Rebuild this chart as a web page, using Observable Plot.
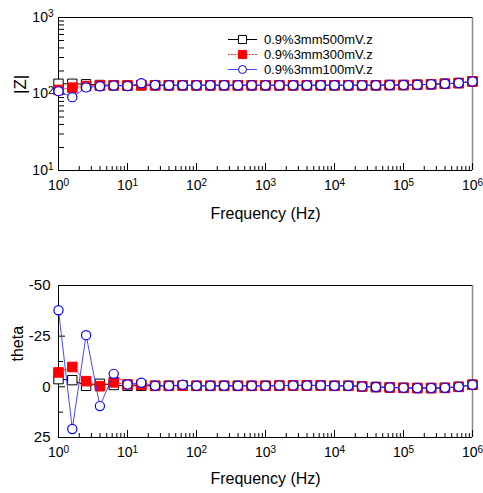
<!DOCTYPE html>
<html><head><meta charset="utf-8">
<script src="https://cdn.jsdelivr.net/npm/d3@7"></script>
<script src="https://cdn.jsdelivr.net/npm/@observablehq/plot@0.6"></script>
<style>
body{margin:0;background:#fff;font-family:"Liberation Sans",Arial,sans-serif;}
#wrap{position:relative;width:483px;height:493px;background:#fff}
#wrap svg{display:block}
.legend{position:absolute;left:226px;top:31.5px;font-size:13px;color:#000}
.row{display:flex;align-items:center;height:15px}
.row span{margin-left:4px}
</style></head><body><div id="wrap"></div>
<script>
// ---- data ----
const freq = [1, 1.585, 2.512, 3.981, 6.31, 10, 15.85, 25.12, 39.81, 63.1,
  100, 158.5, 251.2, 398.1, 631, 1000, 1585, 2512, 3981, 6310,
  10000, 15850, 25120, 39810, 63100, 100000, 158500, 251200, 398100, 631000, 1000000];
const seriesNames = ["0.9%3mm500mV.z", "0.9%3mm300mV.z", "0.9%3mm100mV.z"];
const zBlack = [136,136,134,131,130,129,130,130,130,130,130,130,130,130,130,130,130,130,130,130,130,130,130,130,131,131,132,134,136,139,146];
const zRed   = [113,121,127,129,130,129,130,130,130,130,130,130,130,130,130,130,130,130,130,130,130,130,130,130,131,131,132,134,136,139,146];
const zBlue  = [109,91,122,126,129,127,138,131,130,130,130,130,130,130,130,130,130,130,130,130,130,130,130,130,131,131,132,134,136,139,146];
const thBlack = [-3.8,-3.3,-0.5,-1.5,-0.9,-0.5,-0.5,-0.5,-0.5,-0.6,-0.5,-0.5,-0.5,-0.5,-0.5,-0.5,-0.6,-0.7,-0.7,-0.7,-0.5,-0.5,-0.2,0.1,0.3,0.5,0.6,0.6,0.5,0,-1];
const thRed   = [-7.1,-9.8,-2.8,-0.3,-2.2,-1.2,-1,-0.5,-0.5,-0.6,-0.5,-0.5,-0.5,-0.5,-0.5,-0.5,-0.6,-0.7,-0.7,-0.7,-0.5,-0.5,-0.2,0.1,0.3,0.5,0.6,0.6,0.5,0,-1];
const thBlue  = [-37.8,20.8,-25.5,9.5,-6.4,-1.2,-2,-0.5,-0.5,-1,-0.5,-0.5,-0.5,-0.5,-0.5,-0.5,-0.6,-0.7,-0.7,-0.7,-0.5,-0.5,-0.2,0.1,0.3,0.5,0.6,0.6,0.5,0,-1];
const xMajor = [1,10,100,1000,10000,100000,1000000];
const xMinor = [2,3,4,5,6,7,8,9,20,30,40,50,60,70,80,90,200,300,400,500,600,700,800,900,
  2000,3000,4000,5000,6000,7000,8000,9000,20000,30000,40000,50000,60000,70000,80000,90000,
  200000,300000,400000,500000,600000,700000,800000,900000];
const zMajor = [10,100,1000];
const zMinor = [20,30,40,50,60,70,80,90,200,300,400,500,600,700,800,900];
const thMajor = [-50,-25,0,25];
const thMinor = [-37.5,-12.5,12.5];

// ---- styles ----
const styles = [
  {line:{stroke:"#000",strokeWidth:1}, dot:{symbol:"square",r:5.3,fill:"#fff",stroke:"#000",strokeWidth:1}},
  {line:{stroke:"#f00",strokeWidth:0.8,strokeDasharray:"2,1"}, dot:{symbol:"square",r:5.4,fill:"#f00",stroke:"#f00",strokeWidth:1}},
  {line:{stroke:"#3333ff",strokeWidth:0.9}, dot:{symbol:"circle",r:4.6,fill:"#fff",stroke:"#0000ff",strokeWidth:1.2}}
];
const zSeries = [zBlack, zRed, zBlue];
const thSeries = [thBlack, thRed, thBlue];
const font = '"Liberation Sans", Arial, sans-serif';
const expFmt = d => "10^" + Math.round(Math.log10(d));

function seriesMarks(values) {
  const marks = [];
  values.forEach((vals, k) => {
    const rows = freq.map((f, i) => ({f, v: vals[i]}));
    marks.push(Plot.line(rows, {x:"f", y:"v", ...styles[k].line}));
    marks.push(Plot.dot(rows, {x:"f", y:"v", ...styles[k].dot}));
  });
  return marks;
}

const W = 483, ML = 58, MR = 11;
const innerW = W - ML - MR;

// top panel
const H1 = 245, MT1 = 17, MB1 = 75, inH1 = H1 - MT1 - MB1;
const topPlot = Plot.plot({
  width: W, height: H1, marginTop: MT1, marginBottom: MB1, marginLeft: ML, marginRight: MR,
  x: {type: "log", domain: [1, 1e6]},
  y: {type: "log", domain: [10, 1000]},
  style: {fontFamily: font, fontSize: "14px", background: "#fff", color: "#000", overflow: "visible"},
  marks: [
    Plot.ruleX([1e6], {stroke: "#888", strokeWidth: 1.5}),
    Plot.ruleY([1000], {stroke: "#000"}),
    Plot.ruleY([10], {stroke: "#000"}),
    Plot.ruleX([1], {stroke: "#000"}),
    Plot.tickX(xMajor, {x: d => d, insetTop: inH1 - 7, stroke: "#000"}),
    Plot.tickX(xMinor, {x: d => d, insetTop: inH1 - 4, stroke: "#000"}),
    Plot.tickY(zMajor, {y: d => d, insetRight: innerW - 7, stroke: "#000"}),
    Plot.tickY(zMinor, {y: d => d, insetRight: innerW - 6, stroke: "#000"}),
    ...seriesMarks(zSeries),
    Plot.axisX(xMajor, {tickSize: 0, tickPadding: 10, tickFormat: expFmt, label: null, fontSize: 14}),
    Plot.axisY(zMajor, {tickSize: 0, tickPadding: 5, tickFormat: expFmt, label: null, fontSize: 14}),
    Plot.text(["Frequency (Hz)"], {text: d => d, frameAnchor: "bottom", dy: 48, fontSize: 16}),
    Plot.text(["|Z|"], {text: d => d, frameAnchor: "left", dx: -38, rotate: -90, fontSize: 17})
  ]
});

// bottom panel
const H2 = 248, MT2 = 40, MB2 = 56, inH2 = H2 - MT2 - MB2;
const bottomPlot = Plot.plot({
  width: W, height: H2, marginTop: MT2, marginBottom: MB2, marginLeft: ML, marginRight: MR,
  x: {type: "log", domain: [1, 1e6]},
  y: {domain: [-50, 25], reverse: true},
  style: {fontFamily: font, fontSize: "15px", background: "#fff", color: "#000", overflow: "visible"},
  marks: [
    Plot.ruleX([1e6], {stroke: "#888", strokeWidth: 1.5}),
    Plot.ruleY([-50], {stroke: "#000"}),
    Plot.ruleY([25], {stroke: "#000"}),
    Plot.ruleX([1], {stroke: "#000"}),
    Plot.tickX(xMajor, {x: d => d, insetTop: inH2 - 7, stroke: "#000"}),
    Plot.tickX(xMinor, {x: d => d, insetTop: inH2 - 4, stroke: "#000"}),
    Plot.tickY(thMajor, {y: d => d, insetRight: innerW - 7, stroke: "#000"}),
    Plot.tickY(thMinor, {y: d => d, insetRight: innerW - 5, stroke: "#000"}),
    ...seriesMarks(thSeries),
    Plot.axisX(xMajor, {tickSize: 0, tickPadding: 10, tickFormat: expFmt, label: null, fontSize: 14}),
    Plot.axisY(thMajor, {tickSize: 0, tickPadding: 8, tickFormat: d => String(d), label: null, fontSize: 15}),
    Plot.text(["Frequency (Hz)"], {text: d => d, frameAnchor: "bottom", dy: 46, fontSize: 16}),
    Plot.text(["theta"], {text: d => d, frameAnchor: "left", dx: -41, rotate: -90, fontSize: 16})
  ]
});

function superscripts(svg) {
  d3.select(svg).selectAll('g[aria-label$="tick label"] text').each(function() {
    const t = this.textContent;
    if (!t.includes("^")) return;
    const [b, e] = t.split("^");
    const s = d3.select(this);
    s.text(null);
    s.append("tspan").text(b);
    s.append("tspan").attr("dy", "-0.45em").attr("font-size", "10px").text(e);
  });
}
superscripts(topPlot); superscripts(bottomPlot);

const wrap = document.getElementById("wrap");
wrap.appendChild(topPlot);
wrap.appendChild(bottomPlot);

// legend
const legend = d3.select(wrap).append("div").attr("class", "legend");
seriesNames.forEach((name, k) => {
  const row = legend.append("div").attr("class", "row");
  const sv = row.append("svg").attr("width", 34).attr("height", 15);
  const st = styles[k];
  sv.append("line").attr("x1", 2).attr("x2", 31).attr("y1", 7.5).attr("y2", 7.5)
    .attr("stroke", st.line.stroke).attr("stroke-width", st.line.strokeWidth)
    .attr("stroke-dasharray", st.line.strokeDasharray || null);
  const sym = st.dot.symbol === "square" ? d3.symbolSquare : d3.symbolCircle;
  const size = Math.PI * Math.pow(st.dot.symbol === "square" ? 4.6 : 4.0, 2);
  sv.append("path").attr("transform", "translate(16.5,7.5)")
    .attr("d", d3.symbol(sym, size)())
    .attr("fill", st.dot.fill).attr("stroke", st.dot.stroke).attr("stroke-width", 1);
  row.append("span").text(name);
});
</script>
</body></html>
